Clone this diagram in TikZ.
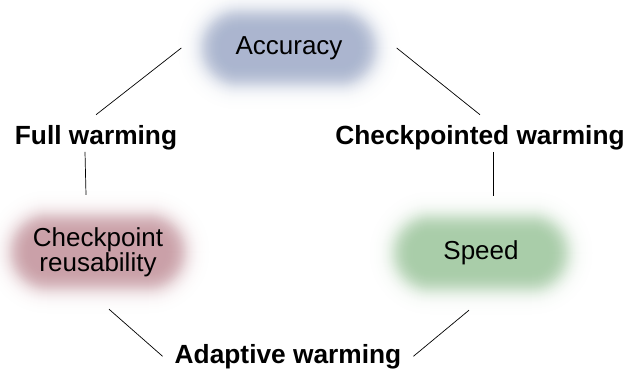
\documentclass[tikz,border=0pt]{standalone}
\usepackage{fontspec}
\setmainfont{Liberation Sans}
\usepackage{tikz}
\usetikzlibrary{backgrounds}
\definecolor{accblue}{RGB}{168,179,205}
\definecolor{reusered}{RGB}{200,157,165}
\definecolor{speedgreen}{RGB}{166,203,166}
\tikzset{
  goal/.style={minimum width=215pt, minimum height=114pt, inner sep=0pt, align=center,
    font=\fontsize{26}{22}\selectfont},
  warming/.style={inner xsep=12pt, inner ysep=1pt, anchor=base,
    font=\fontsize{26.3}{30}\selectfont\bfseries},
  link/.style={line width=0.7pt}
}

\begin{document}
\begin{tikzpicture}[x=1pt,y=-1pt]

  \newcommand\drawglow[2]{%
    \foreach \i in {26,...,-20}{
      \pgfmathtruncatemacro\p{100/(1+exp(1.7*\i/9))}
      \pgfmathtruncatemacro\w{87+\i}
      \pgfmathtruncatemacro\h{37+\i}
      \fill[#2!\p!white, rounded corners=\h pt]
        ([shift={(-\w,-\h)}]#1.center) rectangle ([shift={(\w,\h)}]#1.center);
    }}

  \useasboundingbox (0,0) rectangle (644,374);

  %% goals
  \node[goal] (acc) at (289,48) {Accuracy};
  \node[goal] (reuse) at (98,252) {Checkpoint\\reusability};
  \node[goal] (speed) at (481,253) {Speed};

  %% warming schemes
  \node[warming] (full) at (96,145) {Full warming};
  \node[warming] (ckpt) at (480,145) {Checkpointed warming};
  \node[warming] (adapt) at (288,363) {Adaptive warming};

  \begin{scope}[on background layer]
    \drawglow{acc}{accblue}
    \drawglow{reuse}{reusered}
    \drawglow{speed}{speedgreen}
  \end{scope}

  \draw[link] (acc.west) -- ([yshift=10pt]full.north); % acc - full
  \draw[link] (acc.east) -- ([yshift=10pt]ckpt.north); % acc - ckpt
  \draw[link] ([xshift=-11pt]full.south) -- ([xshift=-12pt]reuse.north);
  \draw[link] ([xshift=13pt]ckpt.south) -- ([xshift=12pt]speed.north);
  \draw[link] ([xshift=11pt]reuse.south) -- (adapt.west);
  \draw[link] ([xshift=-12pt]speed.south) -- (adapt.east);

\end{tikzpicture}
\end{document}
